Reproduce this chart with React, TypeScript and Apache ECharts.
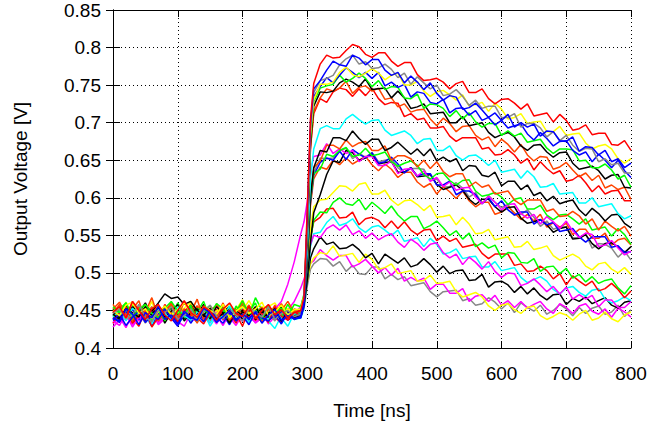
import React, { useEffect, useRef } from "react";
import * as echarts from "echarts";

// Sample times in ns (denser around the rising edge)
const TIMES = [
  0, 10, 20, 30, 40, 50, 60, 70, 80, 90, 100, 110, 120, 130, 140, 150, 160, 170, 180, 190, 200, 210, 220, 230, 240, 250, 260, 270, 280,
  290, 295, 300, 305, 310,
  320, 330, 340, 350, 360, 370, 380, 390, 400, 410, 420, 430, 440, 450, 460, 470, 480, 490, 500, 510, 520, 530, 540, 550, 560, 570, 580, 590, 600,
  610, 620, 630, 640, 650, 660, 670, 680, 690, 700, 710, 720, 730, 740, 750, 760, 770, 780, 790, 800,
];

// Output voltages in mV, one array per trace
// ---- upper group ----
const RED_1 = [
  448,455,440,462,450,438,452,458,444,436,450,463,447,441,455,449,437,452,460,446,442,455,439,450,458,444,451,440,447,
  450,468,585,705,752,
  778,790,786,787,796,804,801,791,787,793, 793,782,775,780,780,764,756,757,759,754, 745,752,755,740,740,745,732,725,731,732,
  726,718,725,709,711,713,701,711,703,690, 692,697,684,686,686,671,670,676,663,
];
const BLUE_1 = [
  440,436,452,445,431,447,440,455,438,444,432,449,441,437,453,446,434,442,450,436,445,439,448,433,444,451,437,443,438,
  442,462,575,700,745,
  756,770,782,777,775,790,786,777,784,784, 770,763,767,753,762,754,744,753,739,730, 736,734,718,720,726,717,707,713,703,711,
  694,700,694,698,682,689,688,676,675,681, 662,668,667,657,663,648,652,640,646,
];
const GRAY_1 = [
  446,452,439,444,458,441,435,450,447,455,438,443,452,436,449,457,442,439,451,444,436,453,447,441,455,438,446,450,442,
  445,465,570,690,740,
  756,759,763,777,785,790,778,781,772,773, 778,771,760,766,751,761,753,745,750,736, 738,744,735,723,730,719,722,722,707,707,
  712,694,699,699,693,681,688,676,683,670, 662,666,665,648,652,644,646,633,633,
];
const YELLOW_1 = [
  450,443,457,461,446,452,439,448,456,444,451,460,447,442,455,450,445,458,440,449,455,446,452,461,443,448,457,444,451,
  452,470,565,685,730,
  751,751,754,767,774,764,761,766,772,766, 757,763,766,750,750,755,742,735,741,743, 737,730,737,722,724,727,715,726,718,705,
  707,712,699,701,702,688,688,695,683, 685,686,673,665,669,671,665,652,646,652,
];
const BLUE_2 = [
  437,445,430,441,449,434,443,438,452,440,429,446,439,444,435,450,441,433,447,438,443,431,449,440,436,445,432,447,439,
  440,458,568,688,735,
  748,760,753,763,773,767,760,767,759,767, 749,754,747,751,734,741,739,727,725,731, 713,719,720,710,716,703,707,697,703,
  693,696,698,685,677,687,679,669,675,676, 663,657,661,648,658,650,640,650,636,627,
];
const GREEN_1 = [
  455,447,460,442,451,458,446,440,453,462,449,444,457,436,450,446,459,452,441,448,463,445,450,438,456,447,453,442,458,
  455,472,560,680,728,
  746,749,751,763,754,759,766,759,748,756, 744,748,747,733,732,738,719,725,724,719, 708,716,705,713,701,694,699,699,683,689,
  682,686,674,676,678,666,659,665,665,664, 649,650,640,640,645,637,625,630,614,
];
const BLACK_1 = [
  445,438,452,447,441,455,449,460,472,466,468,458,462,450,444,453,439,446,451,437,448,443,455,440,446,452,436,448,441,
  444,460,552,672,722,
  741,740,742,753,758,754,748,758,744,745, 746,733,742,733,719,721,725,712,713,714, 700,700,708,696,698,700,687,680,684,687,
  681,669,663,670,671,661,654,660,661,646, 638,640,642,636,625,630,631,614,613,
];
const ORANGE_1 = [
  452,461,444,436,455,448,467,441,450,458,439,462,447,433,456,449,443,460,438,451,446,457,441,435,452,445,459,440,449,
  448,466,548,665,715,
  733,745,742,746,755,739,747,749,742,746, 731,733,721,725,714,717,718,705,696,706, 699,688,695,696,683,677,681,668,678,671,
  661,671,657,649,655,654,638,641,647,637, 628,633,623,630,613,617,611,614,598,
];
const RED_2 = [
  438,447,455,433,444,450,428,441,453,446,435,449,457,440,432,448,443,454,437,445,429,451,440,446,434,455,442,437,448,
  443,462,555,668,712,
  732,727,741,746,744,735,745,736,746,732, 724,727,726,708,712,704,706,693,693,695, 682,675,680,680,680,665,667,657,658,664,
  657,646,652,637,648,639,632,636,622,624, 630,620,608,616,605,609,610,596,596,
];
// ---- middle group ----
const CYAN_1 = [
  441,449,436,453,445,440,432,451,446,438,455,443,437,448,452,434,445,441,456,439,447,433,450,444,438,453,440,429,446,
  445,462,530,625,665,
  692,696,692,692,705,711,704,698,703,704, 690,683,686,689,683,672,678,679,663,663, 669,656,650,656,657,651,643,650,634,636,
  638,626,636,628,614,615,619,605,606,607, 593,593,600,588,590,592,579,572,576,
];
const BLACK_2 = [
  448,440,456,444,451,437,446,453,441,449,458,436,447,452,443,439,455,446,433,450,444,457,438,448,442,451,436,447,443,
  446,460,518,600,640,
  663,661,680,680,676,689,679,671,678,678, 663,667,674,666,658,665,656,665,649,654, 648,652,636,643,642,630,628,634,616,622,
  622,611,617,603,607,596,602,592,595,597, 584,576,586,579,569,577,578,566,560,
];
const ORANGE_2 = [
  458,445,439,462,450,443,455,436,448,460,441,452,447,465,438,451,456,442,449,437,461,446,453,440,457,444,450,462,447,
  450,466,520,605,640,
  649,670,670,665,677,668,673,675,663,663, 669,650,656,656,652,641,650,639,648,635, 628,632,632,615,621,614,617,605,607,609,
  597,591,597,597,597,582,585,575,576,582, 576,565,572,557,569,562,556,562,549,
];
const GREEN_2 = [
  443,452,460,438,447,455,441,449,436,457,446,440,453,448,462,439,445,451,434,456,442,449,460,437,446,453,441,458,444,
  448,463,515,598,632,
  638,658,655,663,667,655,657,666,656,658, 661,648,642,646,649,643,631,625,632,633, 623,617,623,624,609,602,604,607,601,591,
  598,600,585,585,590,577,571,577,578,572, 565,572,557,559,561,549,559,551,538,
];
const MAGENTA_1 = [
  436,430,445,428,441,437,449,433,444,439,431,447,440,435,452,438,443,430,446,441,436,448,433,440,445,452,462,485,515,
  552,568,595,635,655,
  657,672,659,665,659,663,648,655,655,643, 643,649,632,638,639,629,636,622,627,615, 621,610,613,614,601,592,602,594,584,591,
  592,579,573,578,565,575,568,559,569,556, 547,553,551,535,537,543,533,524,529,
];
const BLUE_3 = [
  440,434,447,451,438,443,429,446,452,437,441,448,433,445,439,450,436,444,431,447,442,438,453,435,446,440,449,437,442,
  441,456,512,595,630,
  647,653,650,662,651,664,658,653,660,646, 648,654,645,633,640,629,632,632,617,617, 622,604,609,609,604,592,600,588,596,584,
  577,581,581,565,571,564,567,555,557,559, 548,541,548,548,548,534,536,527,528,
];
const BLACK_3 = [
  451,444,438,455,447,460,442,436,449,453,445,439,457,446,441,452,437,448,455,443,450,438,446,452,440,447,455,443,449,
  447,458,490,540,580,
  604,631,649,647,663,660,650,653,658,645, 647,648,634,634,640,628,629,631,618,611, 614,617,610,598,591,598,598,588,581,587,
  588,573,566,568,571,564,554,559,561,545, 546,551,539,532,539,540,535,527,535,
];
const ORANGE_3 = [
  446,458,440,452,463,437,449,455,443,461,438,450,444,456,447,435,459,442,451,446,462,439,448,454,441,457,445,438,452,
  449,462,510,590,625,
  641,638,650,644,653,645,650,655,644,636, 645,638,627,634,634,621,614,619,605,615, 608,599,609,596,588,594,594,578,581,588,
  580,571,578,569,578,561,567,561,566,551, 558,558,546,546,553,537,544,546,537,
];
const GRAY_2 = [
  442,450,437,446,455,440,433,448,444,452,438,445,449,434,451,443,440,456,437,447,444,435,452,441,448,436,450,443,439,
  444,457,515,600,633,
  653,652,653,663,666,652,659,654,660,648, 650,652,640,633,639,639,638,623,625,614, 615,620,613,601,607,592,603,594,587,591,
  577,578,584,574,562,569,558,561,561,547, 546,552,533,539,538,533,521,529,517,
];
// ---- lower group ----
const YELLOW_2 = [
  447,454,441,459,450,444,462,437,452,448,456,443,460,446,439,453,449,457,442,451,464,447,440,455,449,443,458,451,446,
  450,461,500,560,588,
  597,598,607,616,615,609,618,620,605,605, 610,597,590,596,597,591,583,590,574,575, 577,564,574,565,552,553,558,544,546,548,
  534,535,542,531,533,536,523,517,521,525, 520,509,504,512,514,505,500,507,498,
];
const GREEN_3 = [
  452,439,446,458,443,450,436,455,447,441,460,444,438,453,449,457,435,446,452,440,458,443,467,450,444,438,455,447,442,
  446,458,495,545,570,
  581,580,594,600,592,590,598,584,594,587, 579,589,577,569,575,575,559,563,569,560, 550,556,545,553,535,540,533,537,520,527,
  526,514,513,519,502,508,509,499,506,493, 498,488,495,486,490,492,480,472,483,
];
const RED_3 = [
  433,447,455,440,429,451,444,437,458,446,431,449,442,456,435,445,451,438,447,433,452,441,437,449,455,440,434,446,439,
  442,455,500,548,568,
  574,585,586,573,574,581,564,572,574,570, 560,569,559,568,557,551,557,558,543,549, 542,546,534,536,538,526,519,525,525,525,
  510,512,502,503,509,503,492,499,484,496, 489,483,489,476,479,486,478,467,476,
];
const CYAN_2 = [
  445,438,452,431,446,440,455,436,444,449,433,441,454,438,447,429,443,450,437,445,452,434,441,448,436,426,443,451,438,
  440,452,492,535,552,
  554,567,575,563,566,572,560,554,561,563, 557,550,557,542,544,547,535,546,538,525, 527,532,519,521,522,508,508,515,503,505,
  507,494,487,491,495,489,478,472,480,482, 474,469,477,479,465,460,463,468,463,
];
const MAGENTA_2 = [
  428,437,445,431,442,438,449,434,440,446,433,443,437,451,439,444,432,447,440,436,448,442,434,445,439,447,441,450,446,
  455,470,505,538,550,
  547,559,564,557,564,551,556,546,553,544, 549,552,541,534,545,539,530,538,540,527, 520,525,511,521,514,505,515,502,494,500,
  499,483,486,492,484,475,482,472,481,465, 471,465,470,455,464,464,454,454,462,
];
const BLACK_4 = [
  439,446,452,436,443,449,441,455,433,447,440,451,437,444,458,442,436,449,445,453,438,446,441,450,437,444,452,440,447,
  446,457,490,520,532,
  548,538,541,532,533,538,531,520,526,512, 525,519,513,520,508,511,519,511,501,509, 499,503,504,490,491,498,481,488,489,484,
  474,482,472,480,470,464,471,472,458,466, 462,468,459,463,467,457,453,461,463,
];
const YELLOW_3 = [
  455,448,461,443,452,457,446,450,439,458,447,453,462,444,449,456,441,451,459,445,450,463,448,442,455,460,446,452,449,
  452,462,488,512,520,
  527,525,536,522,524,526,514,525,518,505, 507,512,499,501,503,489,490,497,486,487, 489,475,468,471,474,468,456,450,457,459,
  451,446,454,456,443,438,442,447,444,437, 445,450,437,440,448,439,435,444,448,
];
const MAGENTA_3 = [
  432,441,427,445,436,440,448,431,439,444,435,429,446,438,442,433,449,437,441,430,445,439,436,447,432,442,448,451,462,
  480,492,505,513,516,
  531,523,517,523,523,508,512,518,509,500, 507,497,506,489,494,489,493,478,485,485, 473,473,479,462,469,471,462,470,457,463,
  454,462,453,458,462,452,446,459,454,446, 456,459,449,445,452,441,453,448,441,
];
const GRAY_3 = [
  444,437,450,441,447,433,452,446,439,455,442,448,436,451,445,438,457,443,440,449,435,452,446,441,437,450,443,448,440,
  444,453,482,505,512,
  519,518,509,515,502,510,499,498,508,508, 492,498,491,495,483,485,487,475,468,475, 476,477,463,466,457,459,467,461,452,460,
  447,460,454,449,457,445,450,458,452,443, 454,446,453,456,445,448,457,442,451,
];

const X_TICKS = { min: 0, max: 800, interval: 100 };
const Y_TICKS = { min: 0.4, max: 0.85, interval: 0.05 };

const C = {
  red: "#ff0000",
  green: "#00ff00",
  blue: "#0000ff",
  magenta: "#ff00ff",
  cyan: "#00ffff",
  yellow: "#ffff00",
  black: "#000000",
  orange: "#ff4500",
  gray: "#888888",
};

// drawing order: first drawn is at the bottom
const TRACES: [number[], string][] = [
  [GRAY_3, C.gray], [MAGENTA_3, C.magenta], [YELLOW_3, C.yellow], [BLACK_4, C.black],
  [CYAN_2, C.cyan], [MAGENTA_2, C.magenta], [RED_3, C.red], [GREEN_3, C.green], [YELLOW_2, C.yellow],
  [GRAY_2, C.gray], [ORANGE_3, C.orange], [BLACK_3, C.black], [BLUE_3, C.blue], [MAGENTA_1, C.magenta],
  [GREEN_2, C.green], [ORANGE_2, C.orange], [BLACK_2, C.black], [CYAN_1, C.cyan],
  [RED_2, C.red], [ORANGE_1, C.orange], [BLACK_1, C.black], [GREEN_1, C.green], [BLUE_2, C.blue],
  [YELLOW_1, C.yellow], [GRAY_1, C.gray], [BLUE_1, C.blue], [RED_1, C.red],
];

const FONT = "'Liberation Sans', Arial, Helvetica, sans-serif";

export default function App() {
  const ref = useRef<HTMLDivElement>(null);
  useEffect(() => {
    if (!ref.current) return;
    const chart = echarts.init(ref.current, undefined, { renderer: "svg" });
    const axisLine = { show: true, lineStyle: { color: "#000", width: 1 } };
    const tick = { show: true, inside: true, length: 7, lineStyle: { color: "#000", width: 1 } };
    const split = { show: true, lineStyle: { color: "#000", width: 1, type: [1, 3] as any } };
    const label = { fontSize: 19, color: "#000", fontFamily: FONT };
    chart.setOption({
      animation: false,
      backgroundColor: "#fff",
      grid: { left: 113, right: 20, top: 10, bottom: 82, containLabel: false },
      xAxis: [
        {
          type: "value", ...X_TICKS, position: "bottom",
          name: "Time [ns]", nameLocation: "middle", nameGap: 53,
          nameTextStyle: { ...label },
          axisLine, axisTick: tick, splitLine: split,
          axisLabel: { ...label, margin: 16 },
        },
        {
          type: "value", ...X_TICKS, position: "top",
          axisLine, axisTick: tick, splitLine: { show: false }, axisLabel: { show: false },
        },
      ],
      yAxis: [
        {
          type: "value", ...Y_TICKS, position: "left",
          name: "Output Voltage [V]", nameLocation: "middle", nameGap: 83,
          nameTextStyle: { ...label },
          axisLine, axisTick: tick, splitLine: split,
          axisLabel: { ...label, margin: 12 },
        },
        {
          type: "value", ...Y_TICKS, position: "right",
          axisLine, axisTick: tick, splitLine: { show: false }, axisLabel: { show: false },
        },
      ],
      series: TRACES.map(([vals, color], k) => ({
        type: "line",
        name: "trace " + (k + 1),
        xAxisIndex: 0,
        yAxisIndex: 0,
        showSymbol: false,
        symbol: "none",
        silent: true,
        clip: true,
        lineStyle: { color, width: 1.5 },
        data: TIMES.map((t, i) => [t, vals[i] / 1000]),
      })),
    });
    return () => chart.dispose();
  }, []);
  return (
    <div
      ref={ref}
      style={{ position: "fixed", left: 0, top: 0, width: 651, height: 430, background: "#fff" }}
    />
  );
}
